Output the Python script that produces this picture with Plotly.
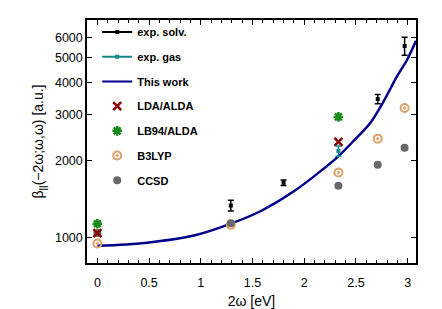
import plotly.graph_objects as go

# ---- data ----
solv_x = [1.29, 1.80, 2.71, 2.97]
solv_y = [1332, 1635, 3460, 5570]
solv_err = [65, 40, 140, 450]

gas_x = [2.33]
gas_y = [2173]
gas_err = [100]

work_x = [0.0, 0.46, 0.944, 1.29, 1.59, 1.91, 2.316, 2.476, 2.638, 2.767, 2.896, 2.993, 3.08]
work_y = [928, 953, 1020, 1132, 1274, 1523, 2047, 2376, 2793, 3389, 4237, 4909, 5830]

lda_x = [0.0, 2.33]
lda_y = [1040, 2355]

lb94_x = [0.0, 2.33]
lb94_y = [1132, 2948]

b3lyp_x = [0.0, 1.29, 2.33, 2.71, 2.97]
b3lyp_y = [948, 1120, 1792, 2426, 3195]

ccsd_x = [0.0, 1.29, 2.33, 2.71, 2.97]
ccsd_y = [1042, 1136, 1592, 1918, 2238]

y_ticks = [1000, 2000, 3000, 4000, 5000, 6000]
x_ticks = [0, 0.5, 1, 1.5, 2, 2.5, 3]

C_SOLV = "#000000"
C_GAS = "#138a8a"
C_WORK = "#00008b"
C_LDA = "#8b0000"
C_LB94 = "#1a8a1a"
C_B3 = "#dda068"
C_CCSD = "#686868"

FONT = "Liberation Sans, Arial, sans-serif"

fig = go.Figure()

# data traces (no legend)
fig.add_trace(go.Scatter(x=work_x, y=work_y, mode="lines",
                         line=dict(color=C_WORK, width=2.5, shape="spline", smoothing=0.8),
                         showlegend=False))
fig.add_trace(go.Scatter(x=b3lyp_x, y=b3lyp_y, mode="markers",
                         marker=dict(symbol="circle-open-dot", size=8, color=C_B3, line=dict(width=2, color=C_B3)),
                         showlegend=False))
fig.add_trace(go.Scatter(x=ccsd_x, y=ccsd_y, mode="markers",
                         marker=dict(symbol="circle", size=8, color=C_CCSD),
                         showlegend=False))
fig.add_trace(go.Scatter(x=lda_x, y=lda_y, mode="markers",
                         marker=dict(symbol="x-thin-open", size=8, color=C_LDA, line=dict(width=2.5, color=C_LDA)),
                         showlegend=False))
fig.add_trace(go.Scatter(x=lb94_x, y=lb94_y, mode="markers",
                         marker=dict(symbol="asterisk-open", size=8, color=C_LB94, line=dict(width=2.5, color=C_LB94)),
                         showlegend=False))
fig.add_trace(go.Scatter(x=gas_x, y=gas_y, mode="markers",
                         marker=dict(symbol="square", size=4, color=C_GAS),
                         error_y=dict(type="data", array=gas_err, color=C_GAS, thickness=1.5, width=3),
                         showlegend=False))
fig.add_trace(go.Scatter(x=solv_x, y=solv_y, mode="markers",
                         marker=dict(symbol="square", size=4, color=C_SOLV),
                         error_y=dict(type="data", array=solv_err, color=C_SOLV, thickness=1.5, width=3),
                         showlegend=False))

# legend entries
def leg(name, **kw):
    fig.add_trace(go.Scatter(x=[None], y=[None], name=name, legendgroup=name, **kw))

leg("exp. solv.", mode="lines+markers", line=dict(color=C_SOLV, width=2),
    marker=dict(symbol="square", size=4, color=C_SOLV))
leg("exp. gas", mode="lines+markers", line=dict(color=C_GAS, width=2),
    marker=dict(symbol="square", size=4, color=C_GAS))
leg("This work", mode="lines", line=dict(color=C_WORK, width=2))
leg("LDA/ALDA", mode="markers",
    marker=dict(symbol="x-thin-open", size=8, color=C_LDA, line=dict(width=2.5, color=C_LDA)))
leg("LB94/ALDA", mode="markers",
    marker=dict(symbol="asterisk-open", size=8, color=C_LB94, line=dict(width=2.5, color=C_LB94)))
leg("B3LYP", mode="markers",
    marker=dict(symbol="circle-open-dot", size=8, color=C_B3, line=dict(width=2, color=C_B3)))
leg("CCSD", mode="markers", marker=dict(symbol="circle", size=8, color=C_CCSD))

axis_common = dict(showline=True, linecolor="#000", linewidth=1.5, mirror="allticks",
                   ticks="inside", tickcolor="#000", showgrid=False, zeroline=False, automargin=False,
                   tickfont=dict(family=FONT, size=12.5, color="#000"))

fig.update_layout(
    width=434, height=301,
    margin=dict(l=79, r=26, t=10, b=46),
    paper_bgcolor="white", plot_bgcolor="white",
    showlegend=True,
    legend=dict(x=0.031, y=1.01, xanchor="left", yanchor="top", bgcolor="rgba(0,0,0,0)",
                font=dict(family=FONT, size=11, color="#000", weight="bold"),
                traceorder="grouped", tracegroupgap=5.7, itemwidth=30, maxheight=300),
    xaxis=dict(range=[-0.1, 3.08], tickvals=x_ticks, ticktext=[str(v) for v in x_ticks], ticklen=5,
               ticklabelstandoff=7,
               minor=dict(dtick=0.1, ticks="inside", ticklen=3, tickcolor="#000", showgrid=False),
               title=dict(text="2ω [eV]", standoff=7,
                          font=dict(family=FONT, size=14, color="#000")),
               **axis_common),
    yaxis=dict(type="log", range=[2.9008, 3.8467], tickvals=y_ticks, ticktext=[str(v) for v in y_ticks],
               ticklen=5,
               title=dict(text="β<sub>||</sub>(−2ω;ω,ω) [a.u.]", standoff=8,
                          font=dict(family=FONT, size=14, color="#000")),
               **axis_common),
)

fig.write_html("out.html")
